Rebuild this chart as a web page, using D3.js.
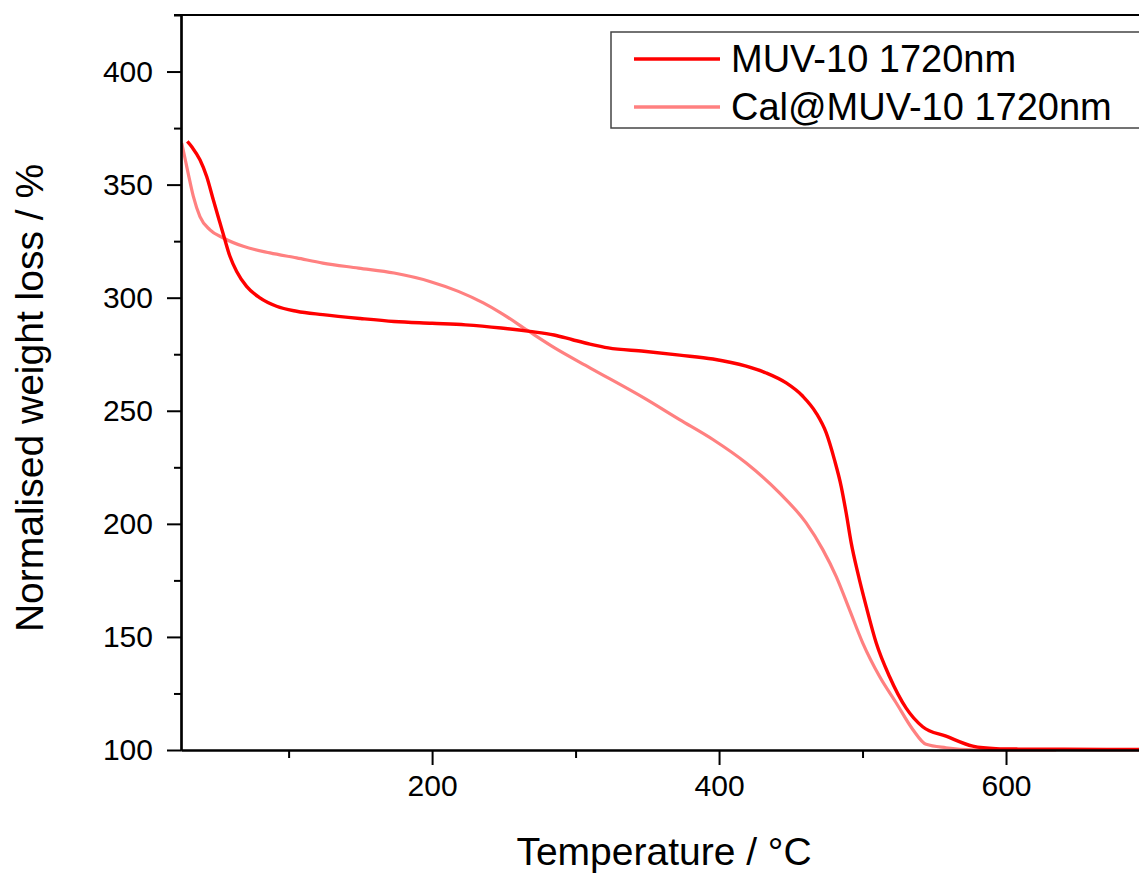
<!DOCTYPE html>
<html>
<head>
<meta charset="utf-8">
<script src="https://cdn.jsdelivr.net/npm/d3@7"></script>
<style>
  html, body { margin: 0; padding: 0; background: #fff; }
  svg { display: block; font-family: "Liberation Sans", Arial, sans-serif; }
</style>
</head>
<body>
<svg id="chart" width="1139" height="874"></svg>
<script>
// ---- data ----
const seriesNames = ["MUV-10 1720nm", "Cal@MUV-10 1720nm"];

const tempMUV = [29.4, 33, 38.2, 42.9, 47.5, 52.2, 55.6, 59.1, 63.8, 70.7, 80, 91.6, 105.6, 123.8, 150, 173.5, 200, 223.3, 248.1, 268, 285, 297.9, 310, 322.8, 347.6, 372.5, 395.7, 418.9, 432.9, 446.8, 458.4, 467.7, 474.7, 480.4, 485.1, 488.6, 492.1, 496.7, 502.5, 509.5, 518.7, 530.4, 541.9, 558.2, 576.8, 593, 610, 640, 670, 700];
const weightMUV = [369.1, 366.3, 361, 353.6, 343.3, 333, 325.6, 318.3, 311.6, 305, 299.9, 296.2, 294, 292.5, 290.8, 289.5, 288.7, 288, 286.6, 285.1, 283.5, 281.4, 279.5, 277.8, 276.3, 274.6, 272.9, 269.7, 266.7, 262.3, 256.4, 249, 240.2, 228.4, 216.6, 204.8, 191.6, 178.3, 163.6, 147.4, 132.6, 118.5, 110.3, 106.1, 101.7, 100.6, 100.4, 100.3, 100.2, 100.2];

const tempCal = [25.5, 28, 30, 33.6, 38.2, 45.2, 54.5, 68.4, 87, 105.6, 123.8, 148.7, 173.5, 198.4, 218.3, 235.7, 248.1, 266.8, 285.4, 310.3, 347.6, 372.5, 395.7, 418.9, 442.1, 460.7, 472.3, 481.6, 490.9, 500.1, 511.8, 523.4, 535, 544.3, 558.2, 576.8, 600, 635];
const weightCal = [368.4, 361, 355, 344.8, 335.9, 330, 326.4, 322.7, 319.8, 317.6, 315.3, 313.1, 310.9, 307.2, 302.8, 297.7, 293.2, 285.4, 277.8, 268.9, 255.7, 246.1, 237.3, 226.9, 213.7, 200.4, 188.6, 176.8, 162.1, 147.4, 132.6, 120.9, 109.1, 102.5, 101, 100.1, 100, 100];

const xTicks = [200, 400, 600];
const xMinorTicks = [100, 300, 500, 700];
const yTicks = [100, 150, 200, 250, 300, 350, 400];
const yMinorTicks = [125, 175, 225, 275, 325, 375, 425];

const xTitle = "Temperature / °C";
const yTitle = "Normalised weight loss / %";
const colors = ["#ff0000", "#ff8080"];

// ---- layout ----
const svg = d3.select("#chart");
const mLeft = 181, mRight = 1149.5, mTop = 15, mBottom = 750;

const x = d3.scaleLinear().domain([25, 700]).range([mLeft, mRight]);
const y = d3.scaleLinear().domain([100, 425]).range([mBottom, mTop]);

svg.append("defs").append("clipPath").attr("id", "plotclip")
  .append("rect").attr("x", mLeft).attr("y", mTop - 2)
  .attr("width", mRight - mLeft).attr("height", mBottom - mTop + 4);

// lines
const line = d3.line().x(d => x(d[0])).y(d => y(d[1])).curve(d3.curveMonotoneX);
const dataMUV = tempMUV.map((t, i) => [t, weightMUV[i]]);
const dataCal = tempCal.map((t, i) => [t, weightCal[i]]);

const g = svg.append("g").attr("clip-path", "url(#plotclip)");
g.append("path").datum(dataCal).attr("d", line)
  .attr("fill", "none").attr("stroke", colors[1]).attr("stroke-width", 3.2);
g.append("path").datum(dataMUV).attr("d", line)
  .attr("fill", "none").attr("stroke", colors[0]).attr("stroke-width", 3.4);

// axes
const xAxis = d3.axisBottom(x).tickValues(xTicks).tickSize(15).tickSizeOuter(0).tickPadding(10);
const xAxisMinor = d3.axisBottom(x).tickValues(xMinorTicks).tickSize(8).tickSizeOuter(0).tickFormat("");
const yAxis = d3.axisLeft(y).tickValues(yTicks).tickSize(14).tickSizeOuter(0).tickPadding(14);
const yAxisMinor = d3.axisLeft(y).tickValues(yMinorTicks).tickSize(7).tickSizeOuter(0).tickFormat("");

function style(sel) {
  sel.selectAll("path.domain").attr("stroke", "#000").attr("stroke-width", 2.2);
  sel.selectAll(".tick line").attr("stroke", "#000").attr("stroke-width", 2);
  sel.selectAll(".tick text").attr("fill", "#000")
    .style("font-size", "30px").style("font-family", "'Liberation Sans', Arial, sans-serif");
}

svg.append("g").attr("transform", `translate(0,${mBottom})`).call(xAxisMinor).call(style);
svg.append("g").attr("transform", `translate(0,${mBottom})`).call(xAxis).call(style);
svg.append("g").attr("transform", `translate(${mLeft},0)`).call(yAxisMinor).call(style);
svg.append("g").attr("transform", `translate(${mLeft},0)`).call(yAxis).call(style);

// top and right frame
svg.append("line").attr("x1", mLeft - 7).attr("x2", mRight).attr("y1", mTop).attr("y2", mTop)
  .attr("stroke", "#000").attr("stroke-width", 2.2);
svg.append("line").attr("x1", mRight).attr("x2", mRight).attr("y1", mTop).attr("y2", mBottom)
  .attr("stroke", "#000").attr("stroke-width", 2.2);

// axis titles
svg.append("text").attr("x", 664).attr("y", 865)
  .attr("text-anchor", "middle").style("font-size", "39px").attr("fill", "#000")
  .text(xTitle);
svg.append("text").attr("transform", `translate(43,398) rotate(-90)`)
  .attr("text-anchor", "middle").style("font-size", "39px").attr("fill", "#000")
  .text(yTitle);

// legend
const leg = svg.append("g");
leg.append("rect").attr("x", 611).attr("y", 32).attr("width", 560).attr("height", 96)
  .attr("fill", "#fff").attr("stroke", "#444").attr("stroke-width", 1.5);
seriesNames.forEach((name, i) => {
  const ly = 59 + i * 48;
  leg.append("line").attr("x1", 634).attr("x2", 720).attr("y1", ly).attr("y2", ly)
    .attr("stroke", colors[i]).attr("stroke-width", 3.4);
  leg.append("text").attr("x", 731).attr("y", ly + 13).style("font-size", "38px")
    .attr("fill", "#000").text(name);
});
</script>
</body>
</html>
